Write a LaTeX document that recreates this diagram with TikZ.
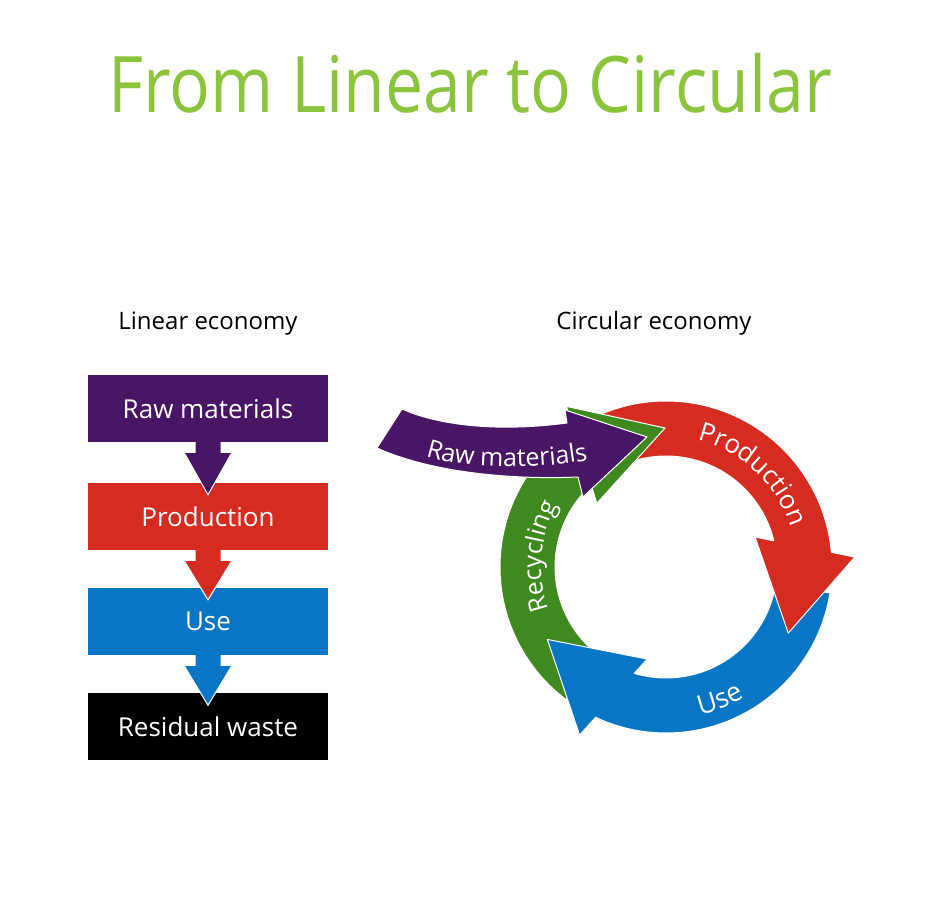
\documentclass[tikz,border=0pt]{standalone}
\usepackage{fontspec}
\setmainfont{Open Sans}
\usetikzlibrary{calc,decorations.text}
\definecolor{titlegreen}{RGB}{140,195,60}
\definecolor{lpurple}{RGB}{72,22,100}
\definecolor{lred}{RGB}{213,43,32}
\definecolor{lblue}{RGB}{8,118,196}
\definecolor{lgreen}{RGB}{62,138,30}
\newcommand\linarrow[3]{%
  \fill[#1] ($(#2.south)+(-12.5,0.5)$) -- ($(#2.south)+(-12.5,-11)$) -- ($(#2.south)+(-23.5,-11)$) -- ($(#3.north)+(0,-12)$) -- ($(#2.south)+(23.5,-11)$) -- ($(#2.south)+(12.5,-11)$) -- ($(#2.south)+(12.5,0.5)$) -- cycle;
  \draw[white,line width=1pt] ($(#2.south)+(-23.5,-11)$) -- ($(#3.north)+(0,-12)$) -- ($(#2.south)+(23.5,-11)$);}
\newcommand\ringarrow[3]{%
  \filldraw[fill=#1,draw=white,line width=1pt,line join=round] (#2:166) arc[start angle=#2, end angle={#3-3.1}, radius=166] -- ({#3-5.2}:189) -- ({#3-36.6}:139) -- ({#3+10.4}:94) -- ({#3+5.4}:111) arc[start angle={#3+5.4}, end angle=#2, radius=111] -- cycle;}
\newcommand\ringhead[2]{%
  \fill[#1] ({#2-3.1}:166) -- ({#2-5.2}:189) -- ({#2-36.6}:139) -- ({#2+10.4}:94) -- ({#2+5.4}:111) -- cycle;
  \draw[white,line width=1pt,line join=round] ({#2-3.1}:166) -- ({#2-5.2}:189) -- ({#2-36.6}:139) -- ({#2+10.4}:94) -- ({#2+5.4}:111);}
\begin{document}
\begin{tikzpicture}[x=1pt,y=1pt,
  lbox/.style={minimum width=240pt,minimum height=67pt,inner sep=0pt,text=white,font=\fontsize{26}{30}\selectfont},
  subt/.style={anchor=base,font=\fontsize{24}{28}\selectfont}]
\useasboundingbox (0,0) rectangle (948,900);
\fill[white] (0,0) rectangle (948,900);
\node[anchor=base,text=titlegreen,font=\fontsize{78}{90}\selectfont] (title) at (470,787) {\scalebox{0.87}[1]{From Linear to Circular}};
\node[subt] (linsub) at (208,570) {Linear economy};
\node[subt] (circsub) at (654,570) {Circular economy};
% linear economy
\node[lbox,fill=lpurple] (raw) at (208,491.5) {Raw materials};
\node[lbox,fill=lred] (prod) at (208,383.5) {Production};
\node[lbox,fill=lblue] (use) at (208,278.5) {Use};
\node[lbox,fill=black] (waste) at (208,173) {Residual waste};
\linarrow{lpurple}{raw}{prod}
\linarrow{lred}{prod}{use}
\linarrow{lblue}{use}{waste}
% circular economy
\begin{scope}[shift={(666,333)}]
\coordinate (cc) at (0,0);
\ringarrow{lred}{114}{8.2}
\ringarrow{lgreen}{-127}{-233}
\ringarrow{lblue}{-9}{-112}
\ringhead{lred}{8.2}
\path[decorate,decoration={text along path,text align=center,text color=white,text={|\fontsize{26}{30}\selectfont|Production}}]
  (87:131) arc[start angle=87,end angle=7,radius=131];
\path[decorate,decoration={text along path,text align=center,text color=white,text={|\fontsize{25}{30}\selectfont|Recycling}}]
  (207:125) arc[start angle=207,end angle=143,radius=125];
\path[decorate,decoration={text along path,text align=center,text color=white,text={|\fontsize{27}{30}\selectfont|Use}}]
  (-98:152) arc[start angle=-98,end angle=-38,radius=152];
\end{scope}
\filldraw[fill=lpurple,draw=white,line width=1pt,line join=round] (402,491) .. controls (440,474) and (500,468) .. (567,477) -- (565,490) -- (647,463) -- (583,403) -- (578,423) .. controls (510,420) and (430,428) .. (377,452) -- cycle;
\path[decorate,decoration={text along path,text align=center,text color=white,text={|\fontsize{25}{30}\selectfont|Raw materials}}]
  (420,446) .. controls (460,430) and (540,430) .. (594,441);
\end{tikzpicture}
\end{document}
